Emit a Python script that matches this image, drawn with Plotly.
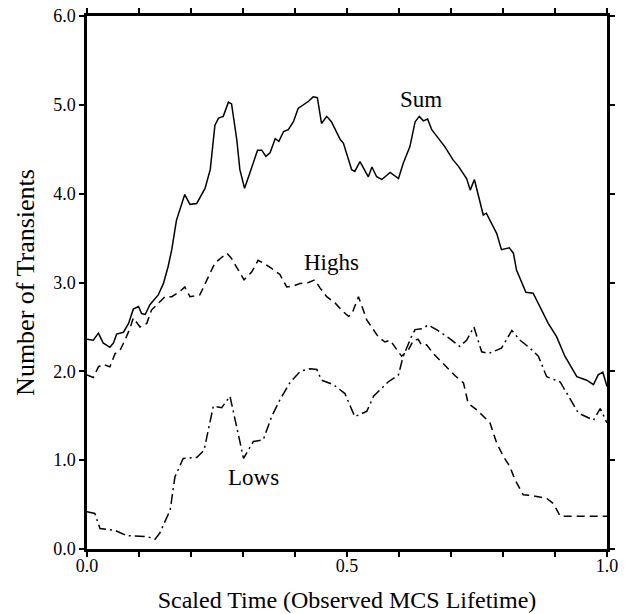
import plotly.graph_objects as go

sum_x = [0.000,0.012,0.022,0.031,0.044,0.051,0.057,0.070,0.080,0.089,
         0.099,0.105,0.112,0.121,0.137,0.147,0.156,0.163,0.172,0.188,
         0.198,0.211,0.227,0.237,0.246,0.253,0.262,0.272,0.278,0.288,
         0.294,0.303,0.313,0.328,0.336,0.344,0.352,0.362,0.369,0.378,
         0.387,0.397,0.406,0.416,0.426,0.435,0.443,0.451,0.461,0.470,
         0.487,0.493,0.509,0.515,0.525,0.541,0.548,0.557,0.567,0.583,
         0.599,0.608,0.621,0.631,0.639,0.647,0.655,0.663,0.688,0.704,
         0.714,0.730,0.737,0.745,0.762,0.768,0.788,0.797,0.812,0.820,
         0.826,0.844,0.858,0.887,0.903,0.919,0.942,0.961,0.974,0.983,
         0.992,1.000]
sum_y = [2.36,2.35,2.43,2.32,2.27,2.32,2.42,2.44,2.54,2.70,
         2.73,2.65,2.64,2.75,2.86,2.99,3.18,3.37,3.70,3.99,
         3.88,3.89,4.06,4.27,4.77,4.85,4.87,5.03,5.01,4.61,
         4.27,4.06,4.23,4.49,4.49,4.42,4.46,4.62,4.59,4.70,
         4.72,4.81,4.96,5.00,5.04,5.09,5.08,4.79,4.87,4.81,
         4.61,4.57,4.27,4.25,4.36,4.19,4.30,4.19,4.16,4.24,
         4.17,4.34,4.53,4.81,4.87,4.82,4.84,4.72,4.53,4.38,
         4.31,4.17,4.04,4.16,3.76,3.78,3.55,3.37,3.39,3.33,
         3.14,2.89,2.88,2.54,2.39,2.17,1.94,1.90,1.85,1.96,
         1.99,1.83]

highs_x = [0.000,0.012,0.022,0.031,0.044,0.054,0.063,0.073,0.083,0.089,
           0.102,0.115,0.124,0.137,0.150,0.163,0.179,0.188,0.198,0.217,
           0.230,0.246,0.269,0.278,0.302,0.317,0.329,0.339,0.355,0.371,
           0.384,0.397,0.410,0.426,0.438,0.448,0.461,0.477,0.493,0.503,
           0.509,0.522,0.538,0.560,0.573,0.583,0.605,0.618,0.628,0.637,
           0.643,0.653,0.666,0.688,0.708,0.724,0.733,0.749,0.775,0.788,
           0.801,0.813,0.823,0.839,0.858,0.884,0.897,0.910,1.000]
highs_y = [1.96,1.93,2.05,2.08,2.05,2.20,2.23,2.35,2.49,2.60,
           2.50,2.54,2.69,2.77,2.84,2.84,2.90,2.95,2.84,2.86,
           3.03,3.22,3.33,3.27,3.03,3.12,3.25,3.22,3.16,3.09,
           2.95,2.96,2.99,3.00,3.03,2.94,2.84,2.77,2.67,2.62,
           2.64,2.84,2.58,2.39,2.33,2.35,2.17,2.24,2.35,2.36,
           2.30,2.30,2.20,2.07,1.95,1.87,1.64,1.57,1.42,1.19,
           1.04,0.93,0.78,0.61,0.60,0.57,0.51,0.37,0.37]

lows_x = [0.000,0.015,0.025,0.054,0.076,0.115,0.131,0.140,0.160,0.169,
          0.185,0.211,0.225,0.243,0.259,0.275,0.301,0.320,0.339,0.355,
          0.371,0.390,0.410,0.429,0.442,0.451,0.474,0.496,0.515,0.538,
          0.551,0.579,0.599,0.608,0.624,0.631,0.644,0.656,0.672,0.695,
          0.717,0.730,0.744,0.759,0.772,0.797,0.817,0.833,0.852,0.868,
          0.884,0.910,0.926,0.945,0.974,0.987,1.000]
lows_y = [0.42,0.40,0.23,0.21,0.15,0.14,0.11,0.18,0.44,0.81,
          1.02,1.03,1.11,1.61,1.59,1.72,1.02,1.21,1.23,1.49,
          1.68,1.87,2.00,2.03,2.02,1.90,1.85,1.75,1.49,1.55,
          1.72,1.88,1.96,2.17,2.39,2.47,2.48,2.52,2.47,2.38,
          2.28,2.35,2.50,2.22,2.20,2.26,2.46,2.35,2.26,2.17,
          1.94,1.88,1.72,1.53,1.45,1.58,1.42]

x_ticks = [0.0,0.1,0.2,0.3,0.4,0.5,0.6,0.7,0.8,0.9,1.0]
x_tick_text = ["0.0","","","","","0.5","","","","","1.0"]
y_ticks = [0,1,2,3,4,5,6]
y_tick_text = ["0.0","1.0","2.0","3.0","4.0","5.0","6.0"]

labels = [("Sum", 0.642, 5.06), ("Highs", 0.471, 3.22), ("Lows", 0.320, 0.81)]

FONT = "Liberation Serif, Times New Roman, serif"

fig = go.Figure()
fig.add_trace(go.Scatter(x=sum_x, y=sum_y, mode="lines",
                         line=dict(color="black", width=1.5), name="Sum"))
fig.add_trace(go.Scatter(x=highs_x, y=highs_y, mode="lines",
                         line=dict(color="black", width=1.5, dash="8px,5px"), name="Highs"))
fig.add_trace(go.Scatter(x=lows_x, y=lows_y, mode="lines",
                         line=dict(color="black", width=1.5, dash="10px,4px,2px,4px"), name="Lows"))

for txt, lx, ly in labels:
    fig.add_annotation(x=lx, y=ly, text=txt, showarrow=False,
                       font=dict(family=FONT, size=23, color="black"))

fig.update_layout(
    width=626, height=614,
    margin=dict(l=87, r=19, t=16, b=65),
    paper_bgcolor="white", plot_bgcolor="white",
    showlegend=False,
    font=dict(family=FONT, color="black"),
)
fig.update_xaxes(range=[0, 1], tickvals=x_ticks, ticktext=x_tick_text,
                 ticks="outside", ticklen=5, tickwidth=2, tickcolor="black",
                 showline=True, linewidth=2.5, linecolor="black", mirror="allticks",
                 showgrid=False, zeroline=False, automargin=False,
                 ticklabelstandoff=-6,
                 tickfont=dict(family=FONT, size=18),
                 title=dict(text="Scaled Time (Observed MCS Lifetime)",
                            font=dict(family=FONT, size=24), standoff=16))
fig.update_yaxes(range=[0, 6], tickvals=y_ticks, ticktext=y_tick_text,
                 ticks="outside", ticklen=5, tickwidth=2, tickcolor="black",
                 showline=True, linewidth=2.5, linecolor="black", mirror="allticks",
                 showgrid=False, zeroline=False, automargin=False,
                 tickfont=dict(family=FONT, size=18),
                 title=dict(text="Number of Transients",
                            font=dict(family=FONT, size=26), standoff=12))

fig.write_html("out.html")
